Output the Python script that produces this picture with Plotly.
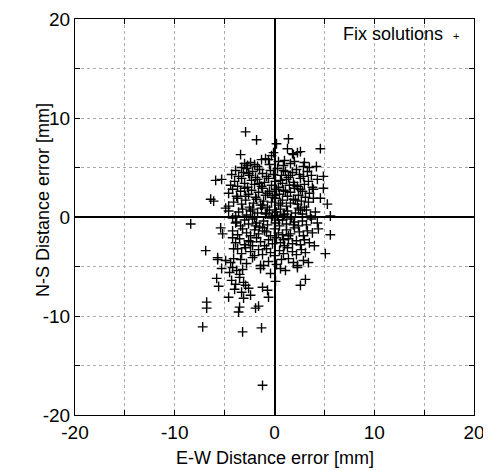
import plotly.graph_objects as go

# E-W (x) and N-S (y) distance errors [mm]
ew_error = [
    -2.9,
    -1.8, 0.2, 1.4,
    -3.4, 4.6, 2.6, 2.3, 1.9, 1.3, -0.3, 1.8, -0.1,
    -0.9, -0.6, 2.0, 3.5, 4.2, -3.0, -2.7, -2.4, -2.0, -1.7, -0.5, -3.3, 0.4, 0.9, 1.6, 1.0, -1.3, 2.9, 3.0,
    -4.3, -3.9, -3.6, -3.1, -2.8, -2.5, -2.2, -1.9, -1.5, -1.2, -0.8, -0.4, -0.1, 0.3, 0.7, 1.1, 1.4, 1.8, 2.2, 2.5, 2.9, 3.3, 3.7, -2.6, 0.9, 1.6, 4.9,
    -5.9, -5.3, -4.4, -4.0, -3.7, -3.3, -3.0, -2.7, -2.3, -2.0, -1.7, -1.3, -1.0, -0.6, -0.3, 0.1, 0.4, 0.8, 1.2, 1.5, 1.9, 2.3, 2.6, 3.0, 3.4, 3.8, 4.3, -1.5, 0.6, 2.0, 4.9,
    -4.6, -4.2, -3.8, -3.4, -3.0, -2.6, -2.3, -1.9, -1.6, -1.2, -0.9, -0.5, -0.2, 0.2, 0.5, 0.9, 1.3, 1.6, 2.0, 2.4, 2.8, 3.1, 3.5, 3.9, -2.9, -0.7, 1.1, 2.6, 0.0,
    -6.4, -6.1, -4.6, -4.1, -3.7, -3.3, -2.9, -2.5, -2.1, -1.8, -1.4, -1.1, -0.7, -0.3, 0.1, 0.4, 0.8, 1.2, 1.6, 1.9, 2.3, 2.7, 3.0, 3.4, 3.9, 4.6, 5.3, -1.2, 0.6, 2.1,
    -4.9, -4.6, -3.9, -3.6, -3.2, -2.8, -2.4, -2.0, -1.7, -1.3, -0.9, -0.5, -0.2, 0.2, 0.6, 0.9, 1.3, 1.7, 2.1, 2.4, 2.8, 3.2, 3.6, 4.1, 5.6, -2.2, -0.8, 1.0, 2.6, 0.3,
    -8.4, -5.4, -4.2, -3.8, -3.4, -3.0, -2.6, -2.2, -1.8, -1.5, -1.1, -0.7, -0.3, 0.1, 0.5, 0.8, 1.2, 1.6, 2.0, 2.4, 2.8, 3.2, 3.7, 4.3, -1.9, 0.4, 1.9, -3.9,
    -5.2, -4.2, -3.7, -3.2, -2.8, -2.4, -2.0, -1.6, -1.2, -0.8, -0.4, 0.0, 0.4, 0.8, 1.2, 1.6, 2.0, 2.5, 2.9, 3.3, 3.8, 4.4, 5.6, -1.0, 1.4,
    -3.9, -3.5, -3.0, -2.6, -2.2, -1.8, -1.4, -1.0, -0.6, -0.2, 0.2, 0.6, 1.0, 1.4, 1.8, 2.2, 2.6, 3.0, 3.5, 4.0, -2.4, 0.9, -4.2,
    -6.9, -4.1, -3.7, -3.3, -2.9, -2.4, -2.0, -1.6, -1.2, -0.8, -0.4, 0.0, 0.5, 0.9, 1.3, 1.8, 2.2, 2.7, 3.1, 5.1,
    -5.7, -5.7, -4.9, -4.4, -4.1, -3.4, -2.2, -1.4, -1.1, -0.6, 0.2, 0.7, 1.4, 1.9, 2.3, 2.9, 3.4, -2.8,
    -5.3, -4.5, -4.2, -3.8, -3.5, -3.2, -1.4, 0.6, 1.1, 2.3, -0.4,
    -5.8, -4.3, -3.9, -3.5, -3.1, 3.1, -2.9, 0.1,
    -5.6, -4.0, -3.3, -2.6, -1.2, -0.7, 2.6,
    -6.8, -4.6, -3.1, -2.4, -0.6,
    -6.8, -3.5, -3.6, -1.9, -1.6,
    -7.2, -3.2, -1.3, -1.2,
]
ns_error = [
    8.6,
    7.8, 7.4, 7.9,
    6.3, 6.9, 6.6, 6.5, 6.3, 6.9, 6.2, 6.4, 6.5,
    5.9, 5.8, 5.6, 5.0, 5.1, 5.4, 5.2, 5.5, 5.3, 5.1, 5.3, 5.0, 5.6, 5.2, 5.4, 5.7, 5.8, 5.1, 5.5,
    4.3, 4.7, 4.1, 4.5, 4.9, 4.2, 4.6, 4.0, 4.8, 4.4, 4.1, 4.7, 4.3, 4.9, 4.2, 4.6, 4.0, 4.5, 4.8, 4.3, 4.1, 4.6, 4.2, 4.4, 4.7, 4.2, 4.1,
    3.7, 3.8, 3.2, 3.6, 3.1, 3.9, 3.4, 3.0, 3.7, 3.3, 3.8, 3.1, 3.5, 3.9, 3.2, 3.6, 3.0, 3.4, 3.8, 3.2, 3.5, 3.1, 3.9, 3.3, 3.6, 3.0, 3.8, 3.4, 3.7, 3.2, 2.9,
    2.4, 2.8, 2.1, 2.6, 2.9, 2.3, 2.7, 2.0, 2.5, 2.9, 2.2, 2.6, 2.0, 2.8, 2.3, 2.7, 2.1, 2.5, 2.9, 2.2, 2.6, 2.0, 2.4, 2.8, 2.1, 2.4, 2.6, 2.8, 2.2,
    1.8, 1.6, 1.1, 1.5, 1.9, 1.3, 1.7, 1.0, 1.4, 1.8, 1.2, 1.6, 1.0, 1.5, 1.9, 1.2, 1.7, 1.1, 1.4, 1.8, 1.3, 1.6, 1.0, 1.5, 1.9, 1.9, 1.3, 1.2, 1.4, 1.7,
    0.9, 0.6, 0.1, 0.5, 0.8, 0.2, 0.6, 0.0, 0.4, 0.9, 0.3, 0.7, 0.1, 0.5, 0.8, 0.2, 0.6, 0.0, 0.4, 0.9, 0.3, 0.7, 0.1, 0.5, 0.1, 0.8, 0.4, 0.3, 0.7, 0.1,
    -0.7, -1.1, -0.1, -0.5, -0.9, -0.3, -0.7, -0.2, -0.6, -1.0, -0.4, -0.8, -0.1, -0.6, -0.9, -0.3, -0.7, -0.2, -0.5, -0.9, -0.4, -0.8, -0.2, -0.6, -0.9, -0.3, -0.8, -0.6,
    -1.7, -1.4, -1.8, -1.2, -1.6, -1.9, -1.3, -1.7, -1.1, -1.5, -1.9, -1.2, -1.6, -1.8, -1.3, -1.7, -1.1, -1.5, -1.9, -1.4, -1.6, -1.2, -1.8, -1.4, -1.9,
    -2.6, -2.2, -2.8, -2.4, -2.9, -2.1, -2.5, -2.9, -2.3, -2.7, -2.1, -2.6, -2.9, -2.2, -2.7, -2.4, -2.8, -2.3, -2.6, -2.9, -2.5, -2.3, -2.1,
    -3.4, -3.2, -3.2, -3.7, -3.1, -3.5, -3.9, -3.3, -3.8, -3.2, -3.6, -3.9, -3.4, -3.7, -3.1, -3.5, -3.8, -3.3, -3.6, -3.7,
    -4.1, -4.3, -4.4, -4.6, -4.2, -4.3, -4.1, -4.9, -4.9, -4.5, -4.8, -4.3, -4.2, -4.6, -4.9, -4.4, -4.6, -4.7,
    -5.2, -5.6, -5.1, -5.4, -5.8, -5.3, -5.2, -5.2, -5.4, -5.1, -5.7,
    -6.2, -6.4, -6.8, -6.1, -6.6, -6.3, -6.9, -6.5,
    -7.0, -7.3, -7.6, -7.2, -7.1, -7.4, -6.9,
    -8.6, -8.1, -8.2, -7.9, -8.1,
    -9.2, -9.1, -9.6, -9.2, -9.0,
    -11.1, -11.6, -11.2, -17.0,
]

series_name = "Fix solutions"
x_title = "E-W Distance error [mm]"
y_title = "N-S Distance error [mm]"
tick_values = [-20, -10, 0, 10, 20]
axis_range = [-20, 20]

FONT = "Liberation Sans, Arial, sans-serif"

fig = go.Figure()
fig.add_trace(go.Scatter(
    x=ew_error, y=ns_error, mode="markers", name=series_name,
    marker=dict(symbol="cross-thin", size=7, color="black",
                line=dict(color="black", width=1.4)),
    showlegend=False,
))

axis_common = dict(
    range=axis_range, tickvals=tick_values, ticktext=[str(v) for v in tick_values],
    showline=True, linecolor="black", linewidth=1.2, mirror="ticks",
    ticks="inside", ticklen=5, tickcolor="black", tickwidth=1,
    showgrid=True, gridcolor="#aaaaaa", gridwidth=1, griddash="dot",
    zeroline=True, zerolinecolor="black", zerolinewidth=1.6,
    minor=dict(dtick=5, ticks="inside", ticklen=5, tickcolor="black",
               showgrid=True, gridcolor="#aaaaaa", griddash="dot", gridwidth=1),
    tickfont=dict(family=FONT, size=19, color="black"),
    ticklabeloverflow="allow",
    automargin=False,
    fixedrange=True,
)

fig.update_xaxes(**axis_common)
fig.update_yaxes(**axis_common)

# The page body adds an 8px offset, so the figure is sized to fit the window.
fig.update_layout(
    width=483, height=462,
    margin=dict(l=67, r=17, t=11, b=55),
    plot_bgcolor="white", paper_bgcolor="white",
    font=dict(family=FONT, color="black"),
    annotations=[
        dict(text=x_title, xref="paper", yref="paper", x=0.5, y=0,
             yshift=-43, xanchor="center", yanchor="middle", showarrow=False,
             font=dict(family=FONT, size=18, color="black")),
        dict(text=y_title, xref="paper", yref="paper", x=0, y=0.5,
             xshift=-32, yshift=17, xanchor="center", yanchor="middle",
             textangle=-90, showarrow=False,
             font=dict(family=FONT, size=18, color="black")),
        dict(text=series_name + "  <span style='font-size:11px'>+</span>",
             xref="paper", yref="paper", x=0.967, y=0.962,
             xanchor="right", yanchor="middle", showarrow=False,
             font=dict(family=FONT, size=18, color="black")),
    ],
)

fig.write_html("out.html")
